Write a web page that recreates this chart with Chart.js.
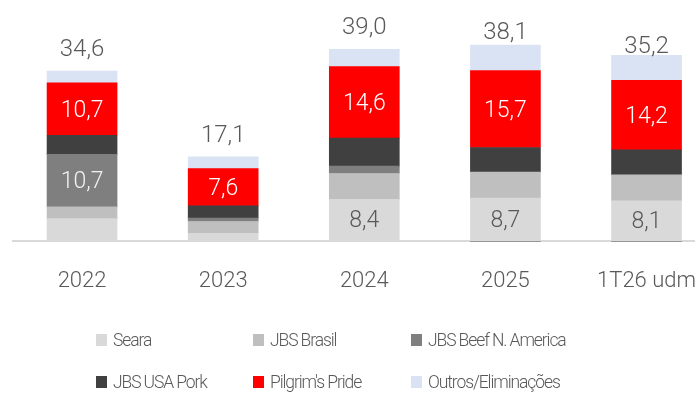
<!DOCTYPE html>
<html>
<head>
<meta charset="utf-8">
<script src="https://cdn.jsdelivr.net/npm/chart.js@4"></script>
<style>
  body { margin: 0; width: 695px; height: 400px; overflow: hidden; background: #fff; position: relative; font-family: Roboto, sans-serif; }
  #wrap { position: absolute; left: 0; top: 0; width: 722px; height: 321px; }
  #legend { position: absolute; left: 0; top: 0; width: 695px; height: 400px; pointer-events: none; }
  .item { position: absolute; display: flex; align-items: center; font-size: 17.5px; font-weight: 300; letter-spacing: -1.1px; color: #595959; white-space: nowrap; }
  .item span.box { width: 11px; height: 12px; margin-right: 6px; display: inline-block; }
</style>
</head>
<body>
<div id="wrap"><canvas id="chart"></canvas></div>
<div id="legend"></div>
<script>
// Receita líquida por unidade de negócio
const categorias = ["2022", "2023", "2024", "2025", "1T26 udm"];

const seara = [4.5, 1.5, 8.4, 8.7, 8.1];
const jbsBrasil = [2.4, 2.4, 5.3, 5.3, 5.3];
const beefNA = [10.7, 0.7, 1.5, -0.2, -0.2];
const usaPork = [3.9, 2.5, 5.7, 5.0, 5.1];
const pilgrims = [10.7, 7.6, 14.6, 15.7, 14.2];
const outros = [2.4, 2.4, 3.5, 5.2, 5.1];
const totais = [34.6, 17.1, 39.0, 38.1, 35.2];

const cinza = "#595959";
const fonte = "Roboto, 'Open Sans', sans-serif";

const series = [
    { label: "Seara", data: seara, color: "#d9d9d9", txt: cinza },
    { label: "JBS Brasil", data: jbsBrasil, color: "#bfbfbf", txt: cinza },
    { label: "JBS Beef N. America", data: beefNA, color: "#7f7f7f", txt: "#f2f2f2" },
    { label: "JBS USA Pork", data: usaPork, color: "#404040", txt: "#ffffff" },
    { label: "Pilgrim's Pride", data: pilgrims, color: "#ff0000", txt: "#ffffff" },
    { label: "Outros/Eliminações", data: outros, color: "#dae3f3", txt: cinza },
];

const fmt = v => v.toFixed(1).replace(".", ",");

// rótulos dentro das barras e totais em cima
const rotulos = {
    id: "rotulos",
    afterDatasetsDraw(chart) {
        const ctx = chart.ctx;
        ctx.save();
        ctx.textAlign = "center";
        ctx.textBaseline = "middle";
        ctx.font = "300 23px " + fonte;
        chart.data.datasets.forEach((ds, i) => {
            const meta = chart.getDatasetMeta(i);
            meta.data.forEach((bar, j) => {
                const v = ds.data[j];
                if (Math.abs(v) < 7) return;
                ctx.fillStyle = series[i].txt;
                ctx.fillText(fmt(v), bar.x, (bar.y + bar.base) / 2 + 2);
            });
        });
        const y = chart.scales.y;
        const meta0 = chart.getDatasetMeta(0);
        ctx.font = "300 24px " + fonte;
        ctx.fillStyle = cinza;
        totais.forEach((t, j) => {
            ctx.fillText(fmt(t), meta0.data[j].x, y.getPixelForValue(t) - 21);
        });
        ctx.restore();
    }
};

new Chart(document.getElementById("chart"), {
    type: "bar",
    data: {
        labels: categorias,
        datasets: series.map(s => ({
            label: s.label,
            data: s.data,
            backgroundColor: s.color,
            borderWidth: 0,
            barThickness: 70,
        })),
    },
    options: {
        responsive: true,
        maintainAspectRatio: false,
        animation: false,
        layout: { padding: { left: 11.5, right: 0, top: 20, bottom: 0 } },
        plugins: { legend: { display: false }, tooltip: { enabled: false } },
        scales: {
            x: {
                stacked: true,
                grid: { display: false, drawTicks: false },
                border: { display: false },
                ticks: { color: cinza, padding: 26, maxRotation: 0, autoSkip: false, font: { family: fonte, size: 22, weight: 300 } },
            },
            y: {
                stacked: true,
                min: -0.4,
                max: 45,
                afterBuildTicks: s => { s.ticks = [{ value: 0 }]; },
                grid: { color: "#d9d9d9", lineWidth: 2, drawTicks: false },
                border: { display: false },
                ticks: { display: false },
            },
        },
    },
    plugins: [rotulos],
});

// legenda em 3 colunas
const legend = document.getElementById("legend");
const colX = [96, 253, 411];
const rowY = [330, 372];
series.forEach((s, i) => {
    const d = document.createElement("div");
    d.className = "item";
    d.style.left = colX[i % 3] + "px";
    d.style.top = rowY[Math.floor(i / 3)] + "px";
    d.innerHTML = '<span class="box" style="background:' + s.color + '"></span>' + s.label;
    legend.appendChild(d);
});
</script>
</body>
</html>
